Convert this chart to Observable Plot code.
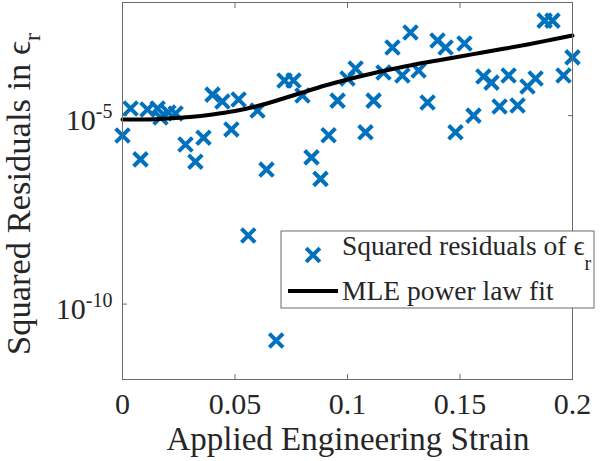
<!DOCTYPE html>
<html><head><meta charset="utf-8">
<script src="https://cdn.jsdelivr.net/npm/d3@7"></script>
<script src="https://cdn.jsdelivr.net/npm/@observablehq/plot@0.6"></script>
<style>body{margin:0;background:#fff}#chart{width:600px;height:461px}</style>
</head><body><div id="chart"></div>
<script>
// Scatter: squared residuals
const strain = [0.000,0.0036,0.008,0.0111,0.0156,0.0169,0.0204,0.0236,0.028,0.0324,0.036,0.040,0.0444,0.0484,0.0516,0.0559,0.060,0.064,0.0683,0.072,0.076,0.080,0.084,0.088,0.0916,0.0956,0.100,0.1036,0.108,0.1116,0.116,0.120,0.1244,0.128,0.1316,0.1356,0.140,0.1436,0.148,0.152,0.156,0.1604,0.164,0.1676,0.1716,0.1756,0.180,0.1836,0.1876,0.1911,0.196,0.200];
const residual = [2.96e-6,1.54e-5,6.9e-7,1.45e-5,1.54e-5,8.9e-6,1.21e-5,1.14e-5,1.71e-6,6.0e-7,2.6e-6,3.6e-5,2.37e-5,4.3e-6,2.67e-5,6.6e-9,1.36e-5,3.7e-7,1.08e-11,8.5e-5,8.5e-5,3.4e-5,7.8e-7,2.1e-7,3.0e-6,2.5e-5,9.6e-5,1.78e-4,3.6e-6,2.5e-5,1.39e-4,6.4e-4,1.16e-4,1.6e-3,1.57e-4,2.22e-5,9.8e-4,6.4e-4,3.6e-6,8.2e-4,1.0e-5,1.09e-4,7.5e-5,1.74e-5,1.16e-4,1.85e-5,5.9e-5,9.6e-5,3.3e-3,3.3e-3,1.16e-4,3.5e-4];
// Fit line: MLE power law fit
const fitStrain = [0,0.01,0.02,0.03,0.04,0.05,0.06,0.07,0.08,0.09,0.10,0.11,0.12,0.13,0.14,0.15,0.16,0.17,0.18,0.19,0.20];
const fitValue = [7.9e-6,7.9e-6,8.4e-6,9.2e-6,1.07e-5,1.32e-5,1.80e-5,2.67e-5,4.1e-5,6.3e-5,9.1e-5,1.27e-4,1.72e-4,2.27e-4,2.9e-4,3.7e-4,4.7e-4,6.0e-4,7.7e-4,1.01e-3,1.33e-3];
const xTicks = [0, 0.05, 0.1, 0.15, 0.2];
const yTicks = [1e-10, 1e-5];
const xLabel = "Applied Engineering Strain";
const yLabel = "Squared Residuals in ϵ";
const legendLabels = ["Squared residuals of ϵ", "MLE power law fit"];
const subscript = "r";

const blue = "#0072BD";
const axisGray = "#6b6b6b";
const textColor = "#262626";

const points = strain.map((x, i) => ({x, y: residual[i]}));
const fit = fitStrain.map((x, i) => ({x, y: fitValue[i]}));

const plot = Plot.plot({
  width: 600, height: 461,
  marginLeft: 122, marginRight: 28, marginTop: 2, marginBottom: 82,
  style: {fontFamily: "Liberation Serif", fontSize: "30px", color: textColor, background: "#fff", overflow: "visible"},
  x: {domain: [0, 0.2]},
  y: {type: "log", domain: [1e-12, 1e-2]},
  marks: [
    Plot.dot(points, {x: "x", y: "y", symbol: "times", r: 6.3, stroke: blue, strokeWidth: 4}),
    Plot.line(fit, {x: "x", y: "y", curve: "natural", stroke: "#000", strokeWidth: 4}),
    Plot.frame({stroke: axisGray}),
    Plot.axisX({ticks: xTicks, tickSize: 0, tickPadding: 13, tickFormat: d => String(d), label: null, fill: textColor}),
    Plot.axisX({ticks: xTicks, tickSize: -5, tickFormat: () => "", label: null, stroke: axisGray}),
    Plot.axisX({anchor: "top", ticks: xTicks, tickSize: -5, tickFormat: () => "", label: null, stroke: axisGray}),
    Plot.axisY({ticks: yTicks, tickSize: 0, tickPadding: 10, dy: 5, tickFormat: d => "10^" + Math.round(Math.log10(d)), label: null, fill: textColor}),
    Plot.axisY({ticks: yTicks, tickSize: -5, tickFormat: () => "", label: null, stroke: axisGray}),
    Plot.axisY({anchor: "right", ticks: yTicks, tickSize: -5, tickFormat: () => "", label: null, stroke: axisGray})
  ]
});
document.getElementById("chart").appendChild(plot);

const svg = d3.select(plot);
// superscripts on y tick labels
svg.selectAll("text").each(function() {
  const m = /^10\^(-?\d+)$/.exec(this.textContent);
  if (m) {
    const el = d3.select(this);
    el.text("10");
    el.append("tspan").attr("dy", -12).attr("font-size", 20).text(m[1]);
  }
});

const ns = svg.append("g").attr("font-family", "Liberation Serif").attr("fill", textColor).attr("text-anchor", "middle");
// x label
ns.append("text").attr("x", 348).attr("y", 450).attr("font-size", 33).text(xLabel);
// y label
const yl = ns.append("text").attr("transform", "translate(30,194) rotate(-90)").attr("font-size", 34.5);
yl.append("tspan").text(yLabel);
yl.append("tspan").attr("dy", 10).attr("font-size", 24).text(subscript);

// legend
const lg = svg.append("g").attr("text-anchor", "start");
lg.append("rect").attr("x", 281).attr("y", 231).attr("width", 313).attr("height", 77).attr("fill", "#fff").attr("stroke", axisGray);
lg.append("path").attr("d", d3.symbol(d3.symbolTimes, Math.PI * 6.3 * 6.3)()).attr("transform", "translate(313,255)").attr("fill", "none").attr("stroke", blue).attr("stroke-width", 4);
const t1 = lg.append("text").attr("x", 342).attr("y", 255).attr("font-family", "Liberation Serif").attr("font-size", 27.5).attr("fill", textColor);
t1.append("tspan").text(legendLabels[0]);
t1.append("tspan").attr("dy", 15).attr("font-size", 20).text(subscript);
lg.append("line").attr("x1", 288).attr("x2", 338).attr("y1", 291).attr("y2", 291).attr("stroke", "#000").attr("stroke-width", 4);
lg.append("text").attr("x", 342).attr("y", 300).attr("font-family", "Liberation Serif").attr("font-size", 27.5).attr("fill", textColor).text(legendLabels[1]);
</script>
</body></html>
